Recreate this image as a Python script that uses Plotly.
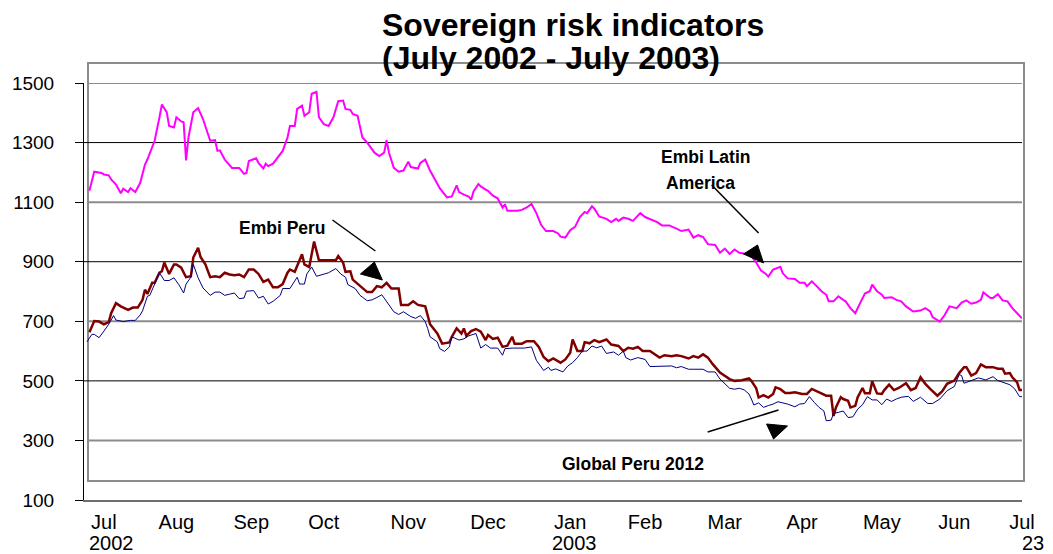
import pandas as pd
import plotly.graph_objects as go

# ---- data: day offsets from 1 July 2002 and spread levels (basis points) ----
base_date = pd.Timestamp("2002-07-01")

embi_latam_day = [
    1, 3, 6, 7, 9, 10, 12, 14, 15, 17, 18, 20, 22, 24, 25, 27, 28, 30, 31, 33,
    34, 36, 37, 39, 40, 41, 42, 44, 46, 48, 50, 51, 53, 54, 55, 57, 60, 63, 65, 66,
    67, 70, 71, 73, 74, 75, 77, 79, 81, 83, 84, 86, 87, 89, 90, 92, 93, 95, 96, 98,
    100, 102, 104, 106, 107, 109, 110, 112, 114, 116, 119, 121, 123, 124, 125, 127,
    129, 131, 133, 134, 137, 138, 140, 142, 144, 146, 149, 151, 153, 154, 156, 158,
    159, 160, 162, 163, 165, 166, 168, 170, 172, 173, 174, 178, 180, 182, 184, 186,
    188, 190, 193, 195, 196, 198, 200, 202, 204, 206, 207, 209, 210, 212, 215, 217,
    219, 220, 222, 224, 226, 229, 231, 234, 236, 238, 241, 244, 246, 249, 251, 253,
    255, 257, 260, 262, 264, 266, 268, 270, 273, 275, 277, 279, 281, 282, 284, 287,
    288, 290, 293, 295, 297, 298, 300, 302, 304, 306, 307, 309, 311, 313, 314, 316,
    318, 320, 322, 324, 325, 327, 329, 330, 333, 335, 337, 339, 342, 345, 347, 349,
    350, 353, 355, 357, 360, 362, 364, 366, 368, 370, 371, 374, 375, 377, 379, 381,
    383, 385, 387,
]
embi_latam = [
    1138, 1202, 1198, 1193, 1190, 1176, 1159, 1130, 1145, 1134, 1147, 1134, 1164, 1226, 1243, 1283, 1306, 1385, 1428, 1402,
    1356, 1351, 1385, 1371, 1368, 1240, 1317, 1402, 1416, 1379, 1334, 1306, 1308, 1272, 1274, 1243, 1215, 1215, 1195, 1198,
    1238, 1247, 1232, 1213, 1229, 1221, 1229, 1251, 1272, 1317, 1356, 1356, 1413, 1424, 1390, 1402, 1464, 1470, 1385, 1362,
    1356, 1385, 1439, 1441, 1413, 1410, 1396, 1390, 1317, 1300, 1266, 1255, 1266, 1308, 1266, 1215,
    1202, 1206, 1236, 1218, 1213, 1232, 1243, 1206, 1176, 1147, 1116, 1119, 1156, 1134, 1125, 1119,
    1108, 1136, 1161, 1153, 1142, 1138, 1122, 1113, 1082, 1093, 1071, 1071, 1074, 1082, 1094, 1063,
    1023, 1003, 1003, 995, 984, 981, 1006, 1017, 1050, 1067, 1063, 1086, 1078, 1052, 1044, 1033,
    1044, 1037, 1048, 1044, 1037, 1063, 1050, 1041, 1033, 1022, 1022, 1011, 1003, 1008, 981, 989,
    983, 959, 956, 930, 944, 926, 941, 930, 926, 919, 897, 870, 859, 850, 874, 883,
    861, 844, 842, 829, 829, 818, 834, 818, 801, 789, 767, 767, 784, 772, 767, 744,
    727, 761, 793, 801, 823, 801, 789, 778, 781, 772, 767, 750, 733, 736, 744, 733,
    714, 699, 721, 750, 744, 763, 770, 759, 763, 772, 797, 778, 778, 791, 770, 767,
    744, 727, 710,
]

embi_peru_day = [
    1, 3, 5, 7, 9, 10, 12, 14, 17, 19, 21, 23, 24, 25, 27, 28, 30, 31, 32, 34,
    36, 37, 39, 41, 43, 44, 46, 47, 49, 51, 53, 55, 57, 59, 61, 63, 65, 67, 69, 71,
    73, 75, 77, 79, 81, 83, 84, 86, 89, 90, 92, 94, 96, 97, 103, 104, 106, 107, 109, 110,
    113, 116, 118, 120, 122, 124, 126, 129, 130, 133, 135, 137, 140, 141, 142, 145, 147, 150,
    151, 153, 155, 156, 157, 159, 161, 163, 165, 166, 168, 170, 172, 174, 176, 177, 180, 182,
    185, 187, 189, 191, 193, 196, 198, 200, 201, 203, 205, 206, 208, 210, 212, 215, 217, 220,
    222, 224, 226, 228, 230, 233, 235, 237, 239, 242, 244, 246, 249, 251, 253, 255, 257, 259,
    262, 264, 266, 268, 271, 274, 275, 277, 278, 280, 282, 284, 285, 287, 289, 291, 293, 296,
    298, 300, 302, 304, 306, 308, 309, 310, 312, 313, 315, 316, 318, 319, 321, 322, 324, 325,
    327, 329, 330, 332, 334, 336, 338, 339, 341, 343, 345, 347, 349, 352, 354, 356, 359, 361,
    363, 364, 366, 368, 370, 372, 375, 377, 379, 380, 382, 383, 385, 386, 387,
]
embi_peru = [
    663, 701, 699, 690, 697, 727, 761, 750, 738, 746, 746, 772, 806, 792, 829, 829, 863, 868, 897, 859,
    891, 891, 880, 848, 851, 914, 947, 916, 891, 848, 851, 848, 863, 857, 855, 857, 848, 874, 874, 859,
    832, 840, 814, 814, 825, 863, 874, 866, 925, 891, 882, 968, 905, 905, 905, 919, 897, 866, 868, 840,
    818, 798, 798, 818, 814, 829, 810, 810, 755, 755, 767, 755, 750, 720, 690, 659, 625, 629,
    648, 676, 659, 676, 651, 667, 674, 665, 637, 654, 641, 645, 614, 618, 648, 625, 625, 633,
    633, 614, 580, 566, 575, 561, 572, 594, 639, 600, 600, 630, 626, 637, 630, 639, 622, 617,
    600, 611, 608, 614, 600, 600, 589, 578, 586, 583, 586, 583, 575, 583, 578, 589, 578, 556,
    528, 517, 506, 500, 502, 508, 500, 475, 444, 452, 444, 456, 478, 472, 459, 459, 462, 456,
    456, 473, 465, 456, 450, 450, 382, 411, 445, 439, 433, 411, 416, 445, 476, 458, 458, 499,
    458, 456, 469, 487, 469, 476, 487, 492, 469, 476, 512, 490, 473, 450, 465, 490, 501, 526,
    546, 546, 518, 526, 555, 546, 546, 541, 541, 524, 526, 512, 495, 469, 469,
]

global_peru_day = [
    0, 2, 3, 5, 7, 9, 11, 12, 15, 18, 20, 22, 23, 25, 26, 28, 30, 32, 34, 36,
    38, 40, 41, 43, 44, 46, 48, 51, 53, 55, 57, 59, 61, 63, 65, 66, 69, 71, 73, 75,
    77, 80, 81, 84, 87, 88, 90, 91, 93, 95, 97, 100, 103, 105, 107, 108, 111, 113, 116, 118,
    120, 122, 123, 125, 127, 129, 131, 134, 136, 138, 140, 141, 142, 145, 146, 148, 150, 151,
    154, 156, 158, 161, 163, 165, 167, 170, 172, 173, 176, 181, 184, 186, 189, 191, 192, 194,
    197, 199, 201, 203, 205, 207, 209, 211, 213, 215, 218, 220, 222, 223, 225, 228, 231, 233,
    236, 239, 242, 244, 246, 249, 252, 255, 257, 260, 262, 264, 266, 268, 270, 272, 274, 275,
    276, 278, 280, 282, 284, 286, 288, 290, 293, 295, 297, 299, 301, 303, 305, 306, 308, 309,
    311, 313, 315, 317, 319, 321, 323, 325, 327, 329, 331, 333, 335, 337, 340, 342, 345, 348,
    350, 353, 356, 359, 361, 362, 363, 366, 369, 372, 375, 377, 379, 382, 384, 386, 387,
]
global_peru = [
    631, 656, 656, 645, 667, 690, 719, 704, 699, 703, 703, 721, 735, 784, 787, 825, 863, 837, 837, 846,
    823, 795, 825, 848, 891, 846, 812, 787, 798, 798, 787, 791, 795, 776, 778, 801, 803, 778, 784, 758,
    767, 787, 810, 810, 848, 825, 825, 859, 882, 851, 855, 863, 877, 859, 848, 823, 810, 787, 769, 772,
    780, 789, 778, 755, 732, 723, 732, 716, 710, 719, 699, 676, 648, 631, 608, 599, 614, 648,
    637, 641, 651, 659, 610, 622, 610, 610, 586, 608, 610, 610, 614, 569, 535, 546, 535, 540,
    530, 550, 561, 578, 600, 600, 617, 611, 617, 592, 597, 586, 600, 578, 570, 578, 572, 548,
    548, 548, 550, 544, 548, 539, 539, 539, 530, 530, 506, 489, 475, 472, 475, 470, 456, 439,
    419, 426, 411, 417, 422, 430, 426, 422, 413, 422, 424, 447, 428, 411, 399, 366, 368, 391,
    394, 399, 377, 379, 405, 420, 447, 436, 436, 420, 439, 431, 439, 445, 448, 431, 445, 424,
    424, 439, 467, 481, 521, 518, 492, 501, 510, 503, 514, 501, 495, 487, 473, 447, 447,
]

# month labels along the time axis
tick_dates = [
    "2002-07-08", "2002-08-07", "2002-09-07", "2002-10-07", "2002-11-11", "2002-12-14",
    "2003-01-17", "2003-02-17", "2003-03-22", "2003-04-23", "2003-05-26", "2003-06-25",
    "2003-07-23",
]
tick_text = ["Jul", "Aug", "Sep", "Oct", "Nov", "Dec", "Jan", "Feb", "Mar", "Apr", "May", "Jun", "Jul"]
y_ticks = [100, 300, 500, 700, 900, 1100, 1300, 1500]


def to_dates(days):
    return base_date + pd.to_timedelta(days, unit="D")


# ---- layout geometry (pixels of the 1053x554 page) ----
W, H = 1053, 554
L, R, T, B = 82, 1022, 83, 500


def P(x, y):
    """page pixel -> paper coordinates"""
    return (x - L) / (R - L), (B - y) / (B - T)


FONT = "Liberation Sans, Arial, sans-serif"

fig = go.Figure()
fig.add_trace(go.Scatter(x=to_dates(embi_latam_day), y=embi_latam, mode="lines",
                         line=dict(color="#FF00FF", width=2), name="Embi Latin America"))
fig.add_trace(go.Scatter(x=to_dates(embi_peru_day), y=embi_peru, mode="lines",
                         line=dict(color="#800000", width=2.5), name="Embi Peru"))
fig.add_trace(go.Scatter(x=to_dates(global_peru_day), y=global_peru, mode="lines",
                         line=dict(color="#000080", width=1), name="Global Peru 2012"))

shapes = []
# inner frame of the plotting area
x0, y0 = P(86, 481)
x1, y1 = P(1024, 63)
shapes.append(dict(type="rect", xref="paper", yref="paper", x0=x0, y0=y0, x1=x1, y1=y1,
                   line=dict(color="#8c8c8c", width=2), layer="below"))
# horizontal guide lines: grey every 400 from 300, black in between
for v in [300, 700, 1100, 1500]:
    shapes.append(dict(type="line", xref="paper", yref="y", x0=P(86, 0)[0], x1=1, y0=v, y1=v,
                       line=dict(color="#8c8c8c", width=2), layer="below"))
for v in [500, 900, 1300]:
    shapes.append(dict(type="line", xref="paper", yref="y", x0=0, x1=1, y0=v, y1=v,
                       line=dict(color="black", width=1), layer="below"))


def seg(a, b, w=1.5):
    (ax, ay), (bx, by) = P(*a), P(*b)
    return dict(type="line", xref="paper", yref="paper", x0=ax, y0=ay, x1=bx, y1=by,
                line=dict(color="black", width=w))


def tri(a, b, c):
    pts = [P(*p) for p in (a, b, c)]
    path = "M {} {} L {} {} L {} {} Z".format(*[f"{v:.5f}" for p in pts for v in p])
    return dict(type="path", xref="paper", yref="paper", path=path,
                fillcolor="black", line=dict(color="black", width=1))


# callout pointers
shapes += [
    seg((331, 220), (374, 251)), tri((359, 274), (373, 262), (381, 280)),
    seg((711, 185), (758, 233)), tri((743, 254), (757, 245), (763, 263)),
    seg((707, 432), (778, 410)), tri((766, 424), (787, 426), (773, 439)),
]

annotations = []


def label(text, x, y, size=17, bold=True, xanchor="center", yanchor="middle"):
    px, py = P(x, y)
    annotations.append(dict(text=f"<b>{text}</b>" if bold else text, x=px, y=py,
                            xref="paper", yref="paper", xanchor=xanchor, yanchor=yanchor,
                            showarrow=False, borderpad=0, borderwidth=0,
                            font=dict(family=FONT, size=size, color="black")))


# title (two lines, left edges aligned)
label("Sovereign risk indicators", 381, 25, size=32, xanchor="left")
label("(July 2002 - July 2003)", 381, 58, size=32, xanchor="left")
# series call-outs
label("Embi Peru", 281, 228, size=17.5)
label("Embi Latin", 705, 157, size=17.5)
label("America", 700, 183, size=17.5)
label("Global Peru 2012", 632, 464, size=17.5)
# second row of the time axis labels
label("2002", 87, 554, size=20, bold=False, xanchor="left", yanchor="bottom")
label("2003", 574, 554, size=20, bold=False, yanchor="bottom")
label("23", 1022, 554, size=20, bold=False, xanchor="left", yanchor="bottom")

fig.update_layout(
    width=W, height=H,
    margin=dict(l=L, r=W - R, t=T, b=H - B, pad=0),
    paper_bgcolor="white", plot_bgcolor="white",
    showlegend=False,
    font=dict(family=FONT, size=19, color="black"),
    shapes=shapes, annotations=annotations,
    xaxis=dict(type="date", range=["2002-06-29 18:18", "2003-07-23 00:15"],
               tickmode="array", tickvals=tick_dates, ticktext=tick_text,
               ticks="", showgrid=False, zeroline=False,
               showline=True, linecolor="#6e6e6e", linewidth=2,
               tickfont=dict(family=FONT, size=20, color="black"),
               ticklabelstandoff=3),
    yaxis=dict(range=[100, 1500], tickmode="array", tickvals=y_ticks,
               ticks="outside", ticklen=8, tickwidth=1, tickcolor="black",
               showgrid=False, zeroline=False,
               showline=True, linecolor="black", linewidth=1,
               tickfont=dict(family=FONT, size=19, color="black"),
               ticklabelstandoff=17),
)

fig.write_html("out.html")
